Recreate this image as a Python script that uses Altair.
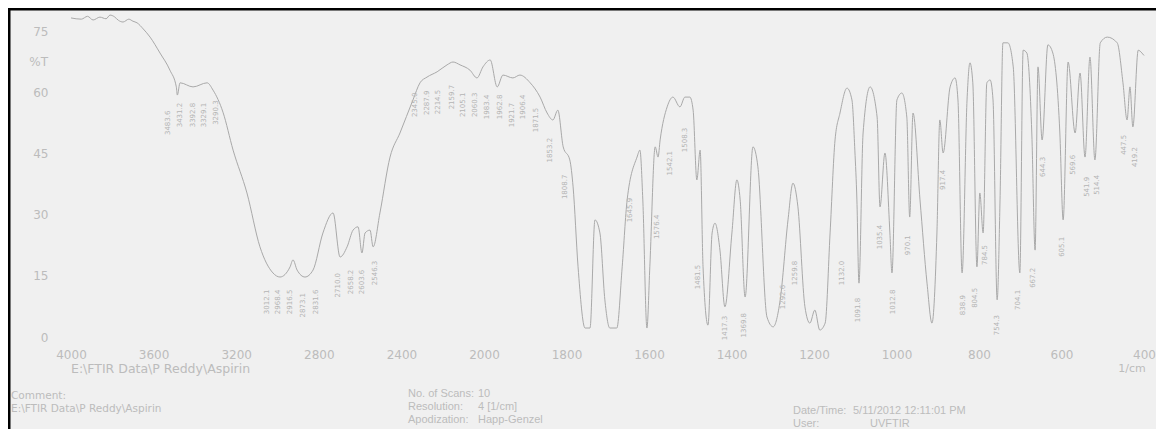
import altair as alt
import pandas as pd

# ---------------- data ----------------
wavenumber = [4000, 3950, 3920, 3893, 3860, 3830, 3811, 3790, 3770, 3748, 3720, 3700, 3680, 3650,
              3617, 3569, 3521, 3490, 3485, 3472, 3409, 3341, 3312, 3264, 3215, 3148, 3085, 3022,
              2988, 2939, 2925, 2905, 2867, 2828, 2780, 2731, 2697, 2663, 2634, 2610, 2591, 2576,
              2552, 2537, 2504, 2455, 2407, 2344, 2310, 2276, 2227, 2179, 2150, 2116, 2068, 2034,
              2005, 1985, 1968, 1954, 1930, 1913, 1888, 1864, 1847, 1833, 1821, 1808, 1792, 1784,
              1772, 1755, 1743, 1731, 1719, 1707, 1695, 1678, 1665, 1653, 1629, 1622, 1615, 1605,
              1598, 1585, 1578, 1573, 1556, 1542, 1525, 1513, 1501, 1493, 1484, 1476, 1469, 1457,
              1447, 1440, 1428, 1416, 1399, 1387, 1379, 1367, 1348, 1336, 1314, 1299, 1282, 1263,
              1251, 1239, 1222, 1210, 1198, 1186, 1173, 1161, 1149, 1137, 1120, 1108, 1101, 1096,
              1091, 1081, 1064, 1047, 1040, 1028, 1016, 1011, 999, 987, 975, 968, 960, 943, 926,
              914, 902, 895, 887, 870, 858, 851, 841, 829, 822, 815, 805, 798, 790, 781, 773, 766,
              756, 749, 742, 730, 717, 701, 693, 684, 672, 664, 657, 647, 633, 621, 604, 596, 584,
              567, 555, 543, 531, 519, 506, 489, 465, 451, 441, 434, 427, 414, 405, 400]
transmittance = [78.2, 77.9, 78.6, 77.7, 78.4, 78.0, 78.9, 78.5, 77.6, 77.2, 77.9, 77.4, 77.0, 75.5,
                 73.5, 69.6, 65.4, 61.3, 59.3, 62.3, 61.3, 62.3, 60.5, 55.1, 45.8, 35.3, 22.1, 15.7,
                 14.7, 17.2, 18.9, 16.4, 14.7, 16.4, 25.5, 30.4, 19.6, 22.1, 26.2, 27.0, 20.6, 25.5,
                 26.2, 22.1, 30.4, 44.1, 50.0, 58.1, 62.3, 63.7, 65.0, 66.7, 67.4, 66.7, 65.4, 63.5,
                 66.2, 67.9, 61.3, 64.2, 63.5, 64.2, 62.3, 58.8, 54.9, 53.2, 55.6, 46.6, 43.4, 36.8,
                 17.2, 2.2, 2.2, 28.7, 25.5, 9.1, 2.2, 2.2, 17.2, 33.6, 44.1, 45.8, 33.6, 2.2,
                 17.2, 46.6, 44.1, 48.3, 56.4, 58.8, 56.4, 58.8, 58.8, 55.6, 38.5, 45.8, 17.2, 2.9,
                 25.5, 27.9, 21.3, 7.4, 25.5, 38.5, 33.6, 9.8, 46.6, 41.7, 4.9, 2.5, 9.1, 28.7,
                 37.7, 31.9, 7.4, 3.4, 6.6, 1.7, 3.4, 25.5, 48.3, 54.9, 61.0, 58.1, 45.8, 33.6,
                 13.2, 50.0, 61.3, 53.9, 31.9, 45.1, 25.5, 15.7, 58.1, 59.8, 53.9, 29.4, 54.9, 33.6, 13.2,
                 3.4, 25.5, 53.2, 45.1, 61.3, 63.5, 58.1, 15.7, 58.1, 67.2, 62.3, 17.2, 35.3, 25.5, 62.3, 63.0, 58.1,
                 9.1, 33.6, 72.1, 72.1, 66.2, 15.7, 70.3, 69.6, 50.0, 21.3, 66.2, 48.3, 71.6, 69.6, 50.0, 28.7, 67.4,
                 50.0, 64.7, 44.1, 68.6, 43.4, 72.1, 73.5, 72.1, 62.3, 53.2, 61.3, 51.5, 70.3, 69.6, 69.0]

peak_wn = [3530, 3472, 3409, 3356, 3298, 3051, 2998, 2939, 2876, 2813, 2707, 2644, 2591, 2528,
           2334, 2276, 2223, 2155, 2102, 2043, 1993, 1961, 1932, 1905, 1874, 1840, 1804, 1646,
           1581, 1549, 1513, 1481, 1416, 1370, 1275, 1246, 1132, 1093, 1040, 1009, 972, 887,
           839, 810, 785, 756, 706, 669, 645, 599, 572, 538, 514, 448, 422]
peak_t = [52.5, 54.4, 54.4, 54.4, 55.0, 8.6, 8.6, 8.6, 7.8, 8.6, 12.7, 13.5, 13.5, 15.7,
          56.9, 57.4, 57.6, 58.8, 56.9, 56.9, 56.4, 56.4, 54.4, 56.4, 53.2, 45.8, 36.8, 31.1,
          27.0, 42.6, 48.3, 14.7, 2.2, 2.9, 9.8, 15.7, 15.7, 6.6, 24.5, 8.6, 22.5, 38.5,
          7.8, 9.6, 20.1, 2.9, 9.1, 14.5, 41.7, 22.1, 42.2, 36.8, 37.3, 47.1, 44.1]
peak_text = ["3483.6", "3431.2", "3392.8", "3329.1", "3290.3", "3012.1", "2968.4", "2916.5",
             "2873.1", "2831.6", "2710.0", "2658.2", "2603.6", "2546.3", "2345.0", "2287.9",
             "2214.5", "2159.7", "2105.1", "2060.3", "1983.4", "1962.8", "1921.7", "1906.4",
             "1871.5", "1853.2", "1808.7", "1645.9", "1576.4", "1542.1", "1508.3", "1481.5",
             "1417.3", "1369.8", "1292.6", "1259.8", "1132.0", "1091.8", "1035.4", "1012.8",
             "970.1", "917.4", "838.9", "804.5", "784.5", "754.3", "704.1", "667.2", "644.3",
             "605.1", "569.6", "541.9", "514.4", "447.5", "419.2"]

x_ticks = [4000, 3600, 3200, 2800, 2400, 2000, 1800, 1600, 1400, 1200, 1000, 800, 600, 400]
y_ticks = [0, 15, 30, 45, 60, 75]

y_unit_label = "%T"
x_unit_label = "1/cm"
file_path = "E:\\FTIR Data\\P Reddy\\Aspirin"
comment_label = "Comment:"
info_left = [("No. of Scans:", "10"), ("Resolution:", "4 [1/cm]"), ("Apodization:", "Happ-Genzel")]
info_right = [("Date/Time:", "5/11/2012 12:11:01 PM"), ("User:", "UVFTIR")]

# ---------------- layout / style ----------------
W, H = 1148, 421
FONT = "DejaVu Sans"
FONT2 = "Liberation Sans"
TXT = "#bcbcbc"

xscale = alt.Scale(domain=[4000, 2000, 400], range=[63, 476, 1136], nice=False, zero=False)
yscale = alt.Scale(domain=[0, 75], range=[329, 23], nice=False, zero=False)

x_axis = alt.Axis(values=x_ticks, title=None, grid=False, ticks=False, domain=False,
                  labelFont=FONT, labelFontSize=12, labelColor=TXT, labelPadding=0,
                  labelBaseline="middle", offset=-75, labelOverlap=False, labelFlush=False,
                  format="d")
y_axis = alt.Axis(values=y_ticks, title=None, grid=False, ticks=False, domain=False,
                  labelFont=FONT, labelFontSize=12, labelColor=TXT, labelPadding=4,
                  offset=-44, labelOverlap=False, labelFlush=False, format="d")

spec_df = pd.DataFrame({"wn": wavenumber, "T": transmittance})
peaks_df = pd.DataFrame({"wn": peak_wn, "T": peak_t, "label": peak_text})

xe = alt.X("wn:Q", scale=xscale, axis=x_axis)
ye = alt.Y("T:Q", scale=yscale, axis=y_axis)

line = alt.Chart(spec_df).mark_line(
    color="#a9a9a9", strokeWidth=1, interpolate="monotone"
).encode(x=xe, y=ye)

peaks = alt.Chart(peaks_df).mark_text(
    angle=270, fontSize=7, font=FONT, color="#b4b4b4", align="center", baseline="middle"
).encode(x=xe, y=ye, text="label:N")

unit_df = pd.DataFrame({"T": [67.4], "t": [y_unit_label]})
unit_y = alt.Chart(unit_df).mark_text(font=FONT, fontSize=12, color=TXT, align="right",
                                      baseline="middle").encode(
    x=alt.value(40), y=alt.Y("T:Q", scale=yscale, axis=y_axis), text="t:N")


def note(text, x, y, align="left", size=10.5, font=FONT):
    return alt.Chart(pd.DataFrame({"t": [text]})).mark_text(
        font=font, fontSize=size, color=TXT, align=align, baseline="middle"
    ).encode(x=alt.value(x), y=alt.value(y), text="t:N")


notes = [
    note(x_unit_label, 1124, 361, align="center", size=11),
    note(file_path, 63, 361, size=12.5),
    note(comment_label, 3, 388),
    note(file_path, 3, 401),
]
for i, (k, v) in enumerate(info_left):
    notes.append(note(k, 400, 386 + 13 * i, size=11, font=FONT2))
    notes.append(note(v, 470, 386 + 13 * i, size=11, font=FONT2))
right_val_x = [845, 862]
for i, (k, v) in enumerate(info_right):
    notes.append(note(k, 785, 403 + 13 * i, size=11, font=FONT2))
    notes.append(note(v, right_val_x[i], 403 + 13 * i, size=11, font=FONT2))

frame_df = pd.DataFrame({"a": [0]})
top_rule = alt.Chart(frame_df).mark_rule(color="black", strokeWidth=3).encode(
    x=alt.value(0), x2=alt.value(W), y=alt.value(1))
left_rule = alt.Chart(frame_df).mark_rule(color="black", strokeWidth=3).encode(
    x=alt.value(1), y=alt.value(0), y2=alt.value(H))

chart = alt.layer(line, peaks, unit_y, *notes, top_rule, left_rule).properties(
    width=W, height=H, padding=0, autosize="none", background="#f0f0f0"
).configure_view(stroke=None)

chart.save("out.html", embed_options={"renderer": "svg", "actions": False})
